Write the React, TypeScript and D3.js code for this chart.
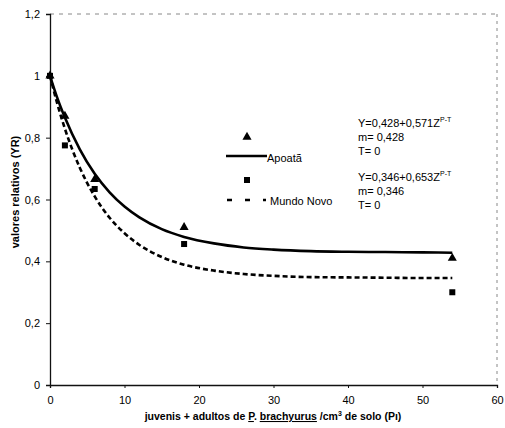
import React, { useEffect, useRef } from 'react';
import * as d3 from 'd3';

// observed points
const densities = [0, 2, 6, 18, 54];
const apoataObs = [1.0, 0.87, 0.665, 0.51, 0.41];
const mundoNovoObs = [1.0, 0.775, 0.634, 0.456, 0.3];

// fitted curves
const curveX = [0, 1, 2, 4, 6, 8, 10, 12, 15, 18, 22, 26, 30, 35, 40, 45, 50, 54];
const apoataFit = [1.0, 0.927, 0.865, 0.762, 0.683, 0.623, 0.577, 0.542, 0.504, 0.479, 0.458, 0.445, 0.438, 0.433, 0.431, 0.43, 0.429, 0.428];
const mundoNovoFit = [1.0, 0.908, 0.829, 0.703, 0.61, 0.541, 0.491, 0.453, 0.414, 0.389, 0.37, 0.359, 0.353, 0.349, 0.348, 0.347, 0.346, 0.346];

const xTicks = [0, 10, 20, 30, 40, 50, 60];
const yTicks = [0, 0.2, 0.4, 0.6, 0.8, 1, 1.2];

const W = 505;
const H = 428;
const margin = { top: 14, right: 8, bottom: 43, left: 50 };

export default function App() {
  const ref = useRef<SVGSVGElement>(null);

  useEffect(() => {
    const svg = d3.select(ref.current);
    svg.selectAll('*').remove();
    const font = 'Liberation Sans, Arial, sans-serif';

    const x = d3.scaleLinear().domain([0, 60]).range([margin.left, W - margin.right]);
    const y = d3.scaleLinear().domain([0, 1.2]).range([H - margin.bottom, margin.top]);
    const x0 = x(0), x1 = x(60), y0 = y(0), y1 = y(1.2);

    // frame: dashed grey top and right
    svg.append('line').attr('x1', x0).attr('x2', x1).attr('y1', y1).attr('y2', y1)
      .attr('stroke', '#888').attr('stroke-dasharray', '4,5');
    svg.append('line').attr('x1', x1).attr('x2', x1).attr('y1', y1).attr('y2', y0)
      .attr('stroke', '#888').attr('stroke-dasharray', '3,4');

    // axes
    const fmt = (d: number) => String(d).replace('.', ',');
    const xAxis = svg.append('g').attr('transform', `translate(0,${y0})`)
      .call(d3.axisBottom(x).tickValues(xTicks).tickSize(3).tickPadding(8));
    const yAxis = svg.append('g').attr('transform', `translate(${x0},0)`)
      .call(d3.axisLeft(y).tickValues(yTicks).tickSize(4).tickPadding(6).tickFormat(d => fmt(+d)));
    [xAxis, yAxis].forEach(g => {
      g.select('.domain').attr('stroke', '#111').attr('stroke-width', 1.3);
      g.selectAll('.tick line').attr('stroke', '#111');
      g.selectAll('text').attr('font-family', font).attr('font-size', 11).attr('fill', '#000');
    });

    // fitted curves
    const line = d3.line<number>().x((_, i) => x(curveX[i])).curve(d3.curveMonotoneX);
    svg.append('path').attr('d', line.y(d => y(d))(apoataFit))
      .attr('fill', 'none').attr('stroke', '#000').attr('stroke-width', 2.6);
    svg.append('path').attr('d', line.y(d => y(d))(mundoNovoFit))
      .attr('fill', 'none').attr('stroke', '#000').attr('stroke-width', 2.6)
      .attr('stroke-dasharray', '5,3');

    // observed markers
    const tri = d3.symbol().type(d3.symbolTriangle).size(36);
    svg.append('g').selectAll('path').data(apoataObs).join('path')
      .attr('d', tri).attr('transform', (d, i) => `translate(${x(densities[i])},${y(d)})`)
      .attr('fill', '#000');
    svg.append('g').selectAll('rect').data(mundoNovoObs).join('rect')
      .attr('x', (d, i) => x(densities[i]) - 3).attr('y', d => y(d) - 3)
      .attr('width', 6).attr('height', 6).attr('fill', '#000');

    // legend
    svg.append('path').attr('d', tri).attr('transform', 'translate(247,137)').attr('fill', '#000');
    svg.append('line').attr('x1', 226).attr('x2', 267).attr('y1', 156).attr('y2', 156)
      .attr('stroke', '#000').attr('stroke-width', 2.6);
    svg.append('text').attr('x', 267).attr('y', 162).text('Apoatã')
      .attr('font-family', font).attr('font-size', 11);
    svg.append('rect').attr('x', 244).attr('y', 177).attr('width', 6).attr('height', 6).attr('fill', '#000');
    svg.append('line').attr('x1', 227).attr('x2', 266).attr('y1', 200).attr('y2', 200)
      .attr('stroke', '#000').attr('stroke-width', 2.6).attr('stroke-dasharray', '5,13');
    svg.append('text').attr('x', 270).attr('y', 205).text('Mundo Novo')
      .attr('font-family', font).attr('font-size', 11);

    // equations
    const eqX = 358;
    const eq = (yy: number, a: string, b: string) => {
      const t = svg.append('text').attr('x', eqX).attr('y', yy)
        .attr('font-family', font).attr('font-size', 11);
      t.append('tspan').text(`Y=${a}+${b}Z`);
      t.append('tspan').attr('dy', -5).attr('font-size', 7).text('P-T');
    };
    const plain = (yy: number, s: string) => svg.append('text').attr('x', eqX).attr('y', yy)
      .attr('font-family', font).attr('font-size', 11).text(s);
    eq(127, '0,428', '0,571');
    plain(141, 'm= 0,428');
    plain(155, 'T= 0');
    eq(181, '0,346', '0,653');
    plain(195, 'm= 0,346');
    plain(209, 'T= 0');

    // axis titles
    const xt = svg.append('text').attr('x', 273).attr('y', 420).attr('text-anchor', 'middle')
      .attr('font-family', font).attr('font-size', 10.5).attr('font-weight', 'bold');
    xt.append('tspan').text('juvenis + adultos de ');
    xt.append('tspan').attr('text-decoration', 'underline').text('P');
    xt.append('tspan').text('. ');
    xt.append('tspan').attr('text-decoration', 'underline').text('brachyurus');
    xt.append('tspan').text(' /cm');
    xt.append('tspan').attr('dy', -4).attr('font-size', 7).text('3');
    xt.append('tspan').attr('dy', 4).text(' de solo (Pı)');

    svg.append('text').attr('transform', 'translate(19,192) rotate(-90)')
      .attr('text-anchor', 'middle').attr('font-family', font).attr('font-size', 11)
      .attr('font-weight', 'bold').text('valores relativos (YR)');
  }, []);

  return (
    <svg ref={ref} width={W} height={H}
      style={{ position: 'absolute', left: 0, top: 0, background: '#fff' }} />
  );
}
